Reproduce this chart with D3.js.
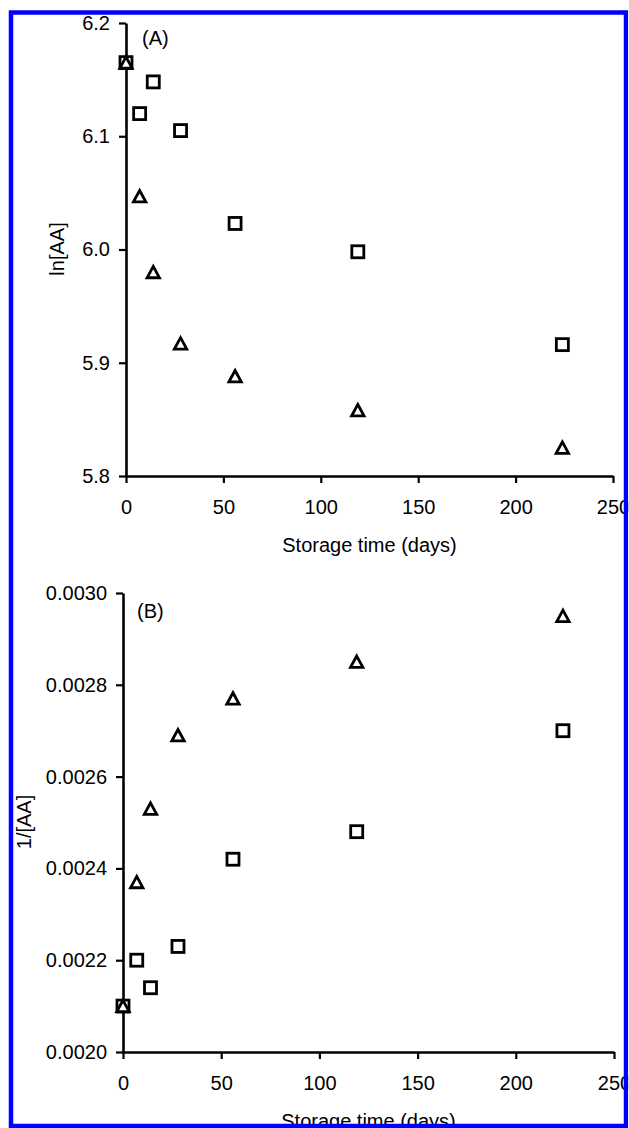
<!DOCTYPE html>
<html>
<head>
<meta charset="utf-8">
<script src="https://cdn.jsdelivr.net/npm/d3@7"></script>
<style>
  body { margin: 0; background: #fff; }
  svg text { font-family: "Liberation Sans", Arial, sans-serif; font-size: 20px; fill: #000; }
</style>
</head>
<body>
<svg id="chart_svg"></svg>
<script>
// storage time (days)
var days = [0, 7, 14, 28, 56, 119, 224];

// panel A: ln[AA]
var lnSquare   = [6.165, 6.120, 6.148, 6.105, 6.023, 5.998, 5.916];
var lnTriangle = [6.165, 6.047, 5.980, 5.917, 5.888, 5.858, 5.825];

// panel B: 1/[AA]
var invSquare   = [0.00210, 0.00220, 0.00214, 0.00223, 0.00242, 0.00248, 0.00270];
var invTriangle = [0.00210, 0.00237, 0.00253, 0.00269, 0.00277, 0.00285, 0.00295];

var xTicks = [0, 50, 100, 150, 200, 250];
var lnTicks = [5.8, 5.9, 6.0, 6.1, 6.2];
var invTicks = [0.0020, 0.0022, 0.0024, 0.0026, 0.0028, 0.0030];

const width = 629, height = 1128;

var svg = d3.select("#chart_svg")
    .attr("width", width)
    .attr("height", height);

function trianglePath(x, y) {
    return `M${x},${y - 5.8} L${x + 6.2},${y + 5.6} L${x - 6.2},${y + 5.6} Z`;
}

function drawPanel(opts) {
    var g = svg.append("g");

    var x = d3.scaleLinear().domain([0, 250]).range(opts.xRange);
    var y = d3.scaleLinear().domain(opts.yDomain).range(opts.yRange);

    var xAxis = d3.axisBottom(x)
        .tickValues(xTicks)
        .tickSize(7)
        .tickSizeOuter(0)
        .tickPadding(17)
        .tickFormat(d3.format("d"));

    var yAxis = d3.axisLeft(y)
        .tickValues(opts.yTicks)
        .tickSize(7)
        .tickSizeOuter(0)
        .tickPadding(9)
        .tickFormat(d3.format(opts.fmt));

    var gx = g.append("g")
        .attr("transform", `translate(0,${opts.yRange[0]})`)
        .call(xAxis);
    var gy = g.append("g")
        .attr("transform", `translate(${opts.xRange[0]},0)`)
        .call(yAxis);

    [gx, gy].forEach(function (a) {
        a.attr("font-size", null).attr("font-family", null);
        a.select(".domain").attr("stroke", "#000").attr("stroke-width", 2.6);
        a.selectAll(".tick line").attr("stroke", "#000").attr("stroke-width", 2.2);
        a.selectAll(".tick text").attr("fill", "#000");
    });

    // axis titles
    g.append("text")
        .attr("x", (opts.xRange[0] + opts.xRange[1]) / 2)
        .attr("y", opts.yRange[0] + 76)
        .attr("text-anchor", "middle")
        .text("Storage time (days)");

    g.append("text")
        .attr("transform", `translate(${opts.yLabelX},${opts.yLabelY}) rotate(-90)`)
        .attr("text-anchor", "middle")
        .text(opts.yLabel);

    g.append("text")
        .attr("x", opts.tagX)
        .attr("y", opts.tagY)
        .text(opts.tag);

    var pts = g.append("g");

    pts.selectAll("rect")
        .data(days.map((d, i) => [d, opts.squares[i]]))
        .join("rect")
        .attr("x", d => x(d[0]) - 6)
        .attr("y", d => y(d[1]) - 6)
        .attr("width", 12)
        .attr("height", 12)
        .attr("fill", "#fff")
        .attr("stroke", "#000")
        .attr("stroke-width", 2.8);

    pts.selectAll("path")
        .data(days.map((d, i) => [d, opts.triangles[i]]))
        .join("path")
        .attr("d", d => trianglePath(x(d[0]), y(d[1])))
        .attr("fill", "#fff")
        .attr("stroke", "#000")
        .attr("stroke-width", 2.8);
}

drawPanel({
    xRange: [126, 613],
    yDomain: [5.8, 6.2],
    yRange: [476, 23],
    yTicks: lnTicks,
    fmt: ".1f",
    yLabel: "ln[AA]",
    yLabelX: 64,
    yLabelY: 249,
    tag: "(A)",
    tagX: 142,
    tagY: 45,
    squares: lnSquare,
    triangles: lnTriangle
});

drawPanel({
    xRange: [123, 614],
    yDomain: [0.0020, 0.0030],
    yRange: [1052, 593],
    yTicks: invTicks,
    fmt: ".4f",
    yLabel: "1/[AA]",
    yLabelX: 31,
    yLabelY: 822,
    tag: "(B)",
    tagX: 137,
    tagY: 618,
    squares: invSquare,
    triangles: invTriangle
});

// blue frame drawn last so it clips the edge labels, as in the original
svg.append("rect")
    .attr("x", 11)
    .attr("y", 12.5)
    .attr("width", 615)
    .attr("height", 1113.5)
    .attr("fill", "none")
    .attr("stroke", "#0000ff")
    .attr("stroke-width", 4.5);
svg.append("rect")
    .attr("x", 628.25)
    .attr("y", 0)
    .attr("width", 1)
    .attr("height", height)
    .attr("fill", "#fff");
</script>
</body>
</html>
